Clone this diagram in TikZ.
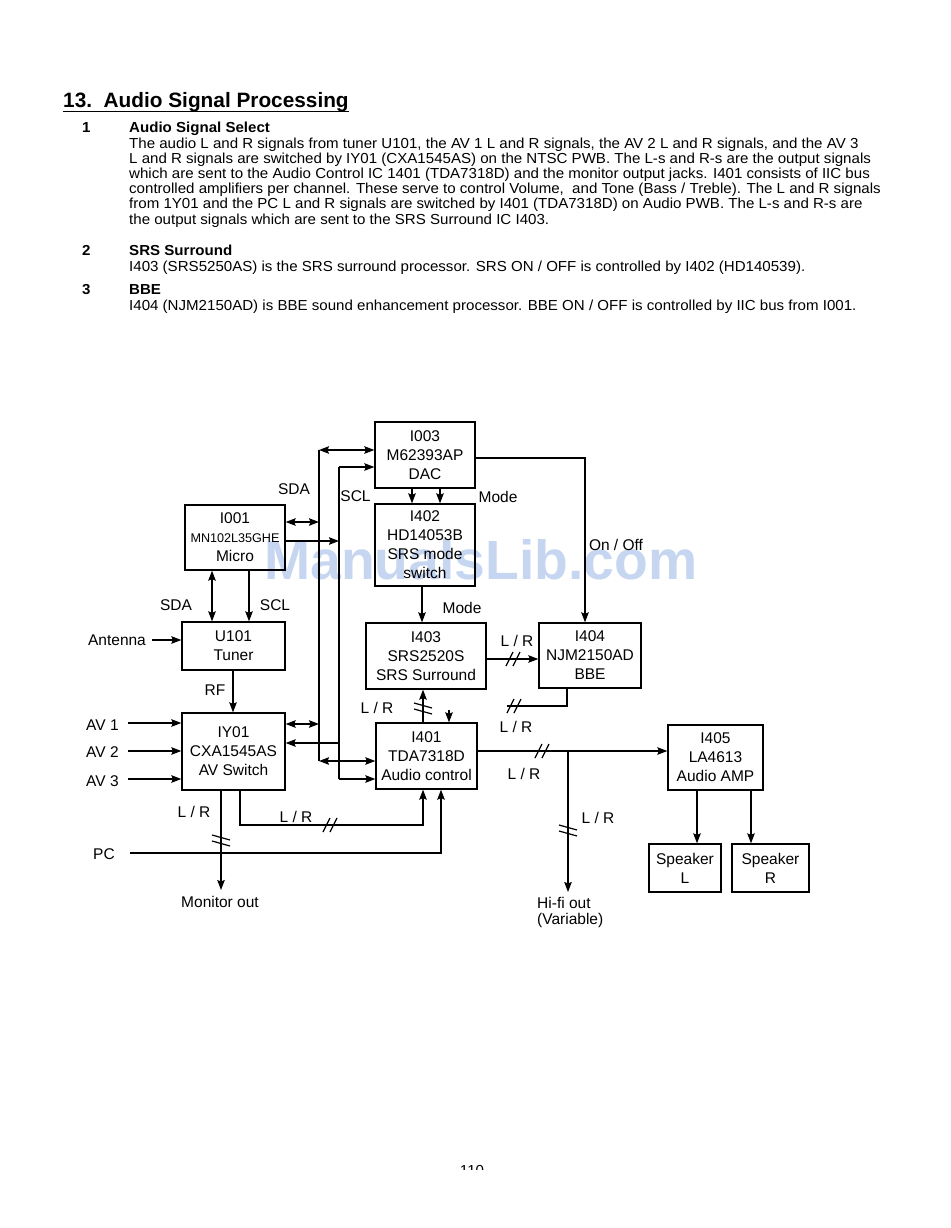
\documentclass[tikz,border=0pt]{standalone}
\usepackage{fontspec}
\setmainfont{Liberation Sans}
\newfontfamily\bodyfont[FakeStretch=1.04]{Liberation Sans}
\usetikzlibrary{arrows.meta}
\definecolor{markblue}{RGB}{198,214,240}

\begin{document}
\begin{tikzpicture}[x=1pt,y=-1pt,
    >={Stealth[length=10pt,width=7.5pt,inset=1.5pt]},
    box/.style={draw, line width=1.3pt, align=center, inner sep=0pt,
      font=\fontsize{15.5}{19}\selectfont},
    lbl/.style={inner sep=0pt, font=\fontsize{15.5}{19}\selectfont},
    wire/.style={line width=1.3pt},
    body/.style={anchor=base west, inner sep=0pt, font=\bodyfont\fontsize{14.5}{15}\selectfont},
    head/.style={anchor=base west, inner sep=0pt, font=\bodyfont\bfseries\fontsize{14.5}{15}\selectfont},
    hsl/.pic={\draw[line width=1.2pt] (-9,7) -- (-2,-7) (-2,7) -- (5,-7);},
    vsl/.pic={\draw[line width=1.2pt] (-9,-5) -- (9,0) (-9,1) -- (9,6);}
  ]
  \useasboundingbox (0,0) rectangle (950,1228);

  % watermark
  \node[inner sep=0pt, text=markblue, font=\bfseries\fontsize{55.3}{60}\selectfont]
    (mark) at (481,560) {ManualsLib.com};

  % text part
  \node[anchor=base west, inner sep=0pt, font=\bfseries\fontsize{20.8}{24}\selectfont]
    (title) at (63,108) {13.\ \ Audio Signal Processing};
  \draw[line width=1.4pt] (63,111.5) -- (title.east |- 0,111.5);

  \node[head] (n1) at (82,132) {1};
  \node[head] (h1) at (129,132) {Audio Signal Select};
  \node[body] (t1) at (129,148) {The audio L and R signals from tuner U101, the AV 1 L and R signals, the AV 2 L and R signals, and the AV 3};
  \node[body] (t2) at (129,163) {L and R signals are switched by IY01 (CXA1545AS) on the NTSC PWB. The L-s and R-s are the output signals};
  \node[body] (t3) at (129,178) {which are sent to the Audio Control IC 1401 (TDA7318D) and the monitor output jacks. I401 consists of IIC bus};
  \node[body] (t4) at (129,193) {controlled amplifiers per channel. These serve to control Volume,\ \ and Tone (Bass / Treble). The L and R signals};
  \node[body] (t5) at (129,208.5) {from 1Y01 and the PC L and R signals are switched by I401 (TDA7318D) on Audio PWB. The L-s and R-s are};
  \node[body] (t6) at (129,224) {the output signals which are sent to the SRS Surround IC I403.};

  \node[head] (n2) at (82,255) {2};
  \node[head] (h2) at (129,255) {SRS Surround};
  \node[body] (s2) at (129,271) {I403 (SRS5250AS) is the SRS surround processor. SRS ON / OFF is controlled by I402 (HD140539).};

  \node[head] (n3) at (82,294) {3};
  \node[head] (h3) at (129,294) {BBE};
  \node[body] (s3) at (129,310) {I404 (NJM2150AD) is BBE sound enhancement processor. BBE ON / OFF is controlled by IIC bus from I001.};

  % blocks
  \node[box, minimum width=100pt, minimum height=66pt] (dac) at (425,455) {I003\\M62393AP\\DAC};
  \node[box, minimum width=100pt, minimum height=65pt] (micro) at (235,537.5)
    {I001\\{\fontsize{12.6}{17}\selectfont MN102L35GHE}\\Micro};
  \node[box, minimum width=100pt, minimum height=82pt] (modesw) at (425,545) {I402\\HD14053B\\SRS mode\\switch};
  \node[box, minimum width=120pt, minimum height=66pt] (srs) at (426,656) {I403\\SRS2520S\\SRS Surround};
  \node[box, minimum width=102pt, minimum height=65pt] (bbe) at (590,655.5) {I404\\NJM2150AD\\BBE};
  \node[box, minimum width=103pt, minimum height=48pt] (tuner) at (233.5,646) {U101\\Tuner};
  \node[box, minimum width=103pt, minimum height=77pt] (avsw) at (233.5,751.5) {IY01\\CXA1545AS\\AV Switch};
  \node[box, minimum width=101pt, minimum height=66pt] (actl) at (426.5,756) {I401\\TDA7318D\\Audio control};
  \node[box, minimum width=95pt, minimum height=65pt] (amp) at (715.5,757.5) {I405\\LA4613\\Audio AMP};
  \node[box, minimum width=72pt, minimum height=48pt] (spl) at (685,868) {Speaker\\L};
  \node[box, minimum width=77pt, minimum height=48pt] (spr) at (770.5,868) {Speaker\\R};

  % IIC bus
  \coordinate (sdatop) at (319,450);
  \coordinate (sdabot) at (319,761);
  \coordinate (scltop) at (339,467);
  \coordinate (sclbot) at (339,779);
  \draw[wire] (sdatop) -- (sdabot);
  \draw[wire] (scltop) -- (sclbot);
  \draw[wire,<->] (sdatop) -- (sdatop -| dac.west);
  \draw[wire,->] (scltop) -- (scltop -| dac.west);
  \draw[wire,<->] (micro.east |- 0,522) -- (319,522);
  \draw[wire,->] (micro.east |- 0,541) -- (339,541);
  \draw[wire,<->] (avsw.east |- 0,724) -- (319,724);
  \draw[wire,->] (339,743) -- (avsw.east |- 0,743);
  \draw[wire,<->] (sdabot) -- (sdabot -| actl.west);
  \draw[wire,->] (sclbot) -- (sclbot -| actl.west);
  \node[lbl] (sda1) at (294,489) {SDA};
  \node[lbl] (scl1) at (355.5,496) {SCL};

  % micro to tuner
  \draw[wire,<->] (micro.south -| 212,0) -- (tuner.north -| 212,0);
  \draw[wire,->] (micro.south -| 249,0) -- (tuner.north -| 249,0);
  \node[lbl] (sda2) at (176,605) {SDA};
  \node[lbl] (scl2) at (275,605) {SCL};

  % inputs
  \node[lbl] (ant) at (117,640) {Antenna};
  \draw[wire,->] (152,640) -- (tuner.west |- 0,640);
  \draw[wire,->] (tuner.south -| 233,0) -- (avsw.north -| 233,0);
  \node[lbl] (rf) at (215,690) {RF};
  \foreach \i/\y/\ty in {1/723/725, 2/751/752, 3/779/781} {
    \node[lbl, anchor=west] (av\i) at (86,\ty) {AV \i};
    \draw[wire,->] (128,\y) -- (avsw.west |- 0,\y);
  }

  % AV switch outputs
  \coordinate (mon) at (221,890);
  \draw[wire,->] (avsw.south -| mon) -- (mon);
  \pic at (221,840) {vsl};
  \node[lbl] (lr1) at (194,812) {L / R};
  \node[lbl] (monout) at (220,902) {Monitor out};
  \draw[wire,->] (avsw.south -| 240,0) -- (240,825) -- (423,825) -- (actl.south -| 423,0);
  \pic at (332,825) {hsl};
  \node[lbl] (lr2) at (296,817) {L / R};
  \node[lbl] (pc) at (104,854) {PC};
  \draw[wire,->] (130,853) -- (441,853) -- (actl.south -| 441,0);

  % control to surround and BBE
  \draw[wire,->] (dac.south -| 412,0) -- (modesw.north -| 412,0);
  \draw[wire,->] (dac.south -| 440,0) -- (modesw.north -| 440,0);
  \node[lbl] (mode1) at (498,497) {Mode};
  \draw[wire,->] (modesw.south -| 422,0) -- (srs.north -| 422,0);
  \node[lbl] (mode2) at (462,608) {Mode};
  \draw[wire,->] (dac.east |- 0,458) -- (585,458) -- (bbe.north -| 585,0);
  \node[lbl] (onoff) at (616,545) {On / Off};
  \draw[wire,->] (actl.north -| 423,0) -- (srs.south -| 423,0);
  \pic at (423,708) {vsl};
  \node[lbl] (lr3) at (377,708) {L / R};
  \draw[wire,->] (srs.east |- 0,659) -- (bbe.west |- 0,659);
  \pic at (515,659) {hsl};
  \node[lbl] (lr4) at (517,641) {L / R};
  \coordinate (bbeend) at (507,706);
  \draw[wire] (bbe.south -| 567,0) -- (567,706) -- (bbeend);
  \pic at (516,706) {hsl};
  \node[lbl] (lr5) at (516,727) {L / R};
  \coordinate (bbein) at (449,710);
  \draw[wire,->] (bbein) -- (actl.north -| bbein);

  % audio control outputs
  \coordinate (junc) at (568,751);
  \draw[wire,->] (actl.east |- junc) -- (amp.west |- junc);
  \pic at (544,751) {hsl};
  \node[lbl] (lr6) at (524,774) {L / R};
  \coordinate (hifi) at (568,892);
  \draw[wire,->] (junc) -- (hifi);
  \pic at (568,830) {vsl};
  \node[lbl] (lr7) at (598,818) {L / R};
  \node[lbl, anchor=north west, align=left, font=\fontsize{15.5}{16}\selectfont] (hifiout) at (537,897) {Hi-fi out\\(Variable)};
  \draw[wire,->] (amp.south -| 697,0) -- (spl.north -| 697,0);
  \draw[wire,->] (amp.south -| 751,0) -- (spr.north -| 751,0);

  % page number
  \begin{scope}
    \clip (440,1160) rectangle (510,1169);
    \node[body, anchor=base] (page) at (472,1175) {110};
  \end{scope}
\end{tikzpicture}
\end{document}
